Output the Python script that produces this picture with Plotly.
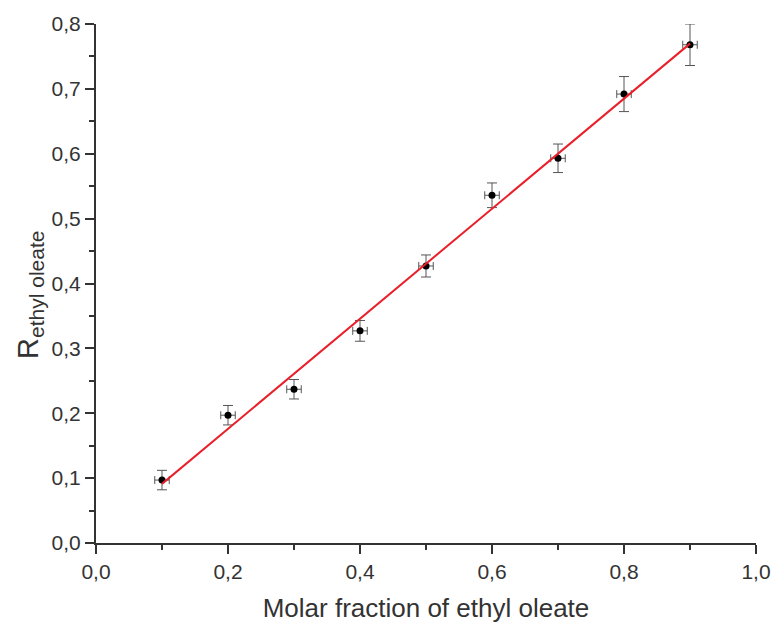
import numpy as np
import plotly.graph_objects as go

# Data
x_frac = [0.1, 0.2, 0.3, 0.4, 0.5, 0.6, 0.7, 0.8, 0.9]
r_val = [0.097, 0.197, 0.237, 0.327, 0.427, 0.536, 0.593, 0.692, 0.768]
r_err = [0.015, 0.015, 0.015, 0.016, 0.017, 0.019, 0.022, 0.027, 0.032]
x_err = [0.011] * 9

x_ticks = [0.0, 0.2, 0.4, 0.6, 0.8, 1.0]
y_ticks = [0.0, 0.1, 0.2, 0.3, 0.4, 0.5, 0.6, 0.7, 0.8]

y_title = "R<sub><span style='font-size:21px'>ethyl oleate</span></sub>"
x_title = "Molar fraction of ethyl oleate"

# Linear fit from data
slope, intercept = np.polyfit(x_frac, r_val, 1)
fit_x = [min(x_frac), max(x_frac)]
fit_y = [slope * v + intercept for v in fit_x]

fig = go.Figure()
fig.add_trace(go.Scatter(
    x=x_frac, y=r_val, mode="markers",
    marker=dict(color="black", size=7),
    error_y=dict(type="data", array=r_err, visible=True, color="#555555", thickness=1, width=5),
    error_x=dict(type="data", array=x_err, visible=True, color="#555555", thickness=1, width=4),
    cliponaxis=False, showlegend=False,
))
fig.add_trace(go.Scatter(
    x=fit_x, y=fit_y, mode="lines",
    line=dict(color="#e8202a", width=2), showlegend=False,
))

axis_common = dict(
    showgrid=False, zeroline=False, showline=True, linecolor="#333333", linewidth=2,
    ticks="outside", ticklen=9, tickwidth=2, tickcolor="#333333",
    tickfont=dict(size=21, color="#333333"), tickformat=".1f", automargin=False,
)

fig.update_layout(
    width=772, height=626,
    margin=dict(l=96, r=16, t=24, b=83),
    paper_bgcolor="white", plot_bgcolor="white",
    separators=", ",
    font=dict(family="Liberation Sans, Arial, sans-serif", color="#333333"),
    xaxis=dict(
        range=[0, 1], tickvals=x_ticks,
        minor=dict(ticks="outside", ticklen=5, tickwidth=2, tickcolor="#333333", dtick=0.1, tick0=0),
        title=dict(text=x_title, font=dict(size=26, color="#333333"), standoff=17),
        **axis_common,
    ),
    yaxis=dict(
        range=[0, 0.8], tickvals=y_ticks,
        minor=dict(ticks="outside", ticklen=5, tickwidth=2, tickcolor="#333333", dtick=0.05, tick0=0),
        **axis_common,
    ),
    annotations=[dict(
        text=y_title, textangle=-90, showarrow=False,
        xref="paper", yref="paper", x=-0.1, y=0.478, xanchor="center", yanchor="middle",
        font=dict(size=29, color="#333333"),
    )],
)

fig.write_html("out.html", config={"displayModeBar": False},
               post_script="document.body.style.margin='0';")
